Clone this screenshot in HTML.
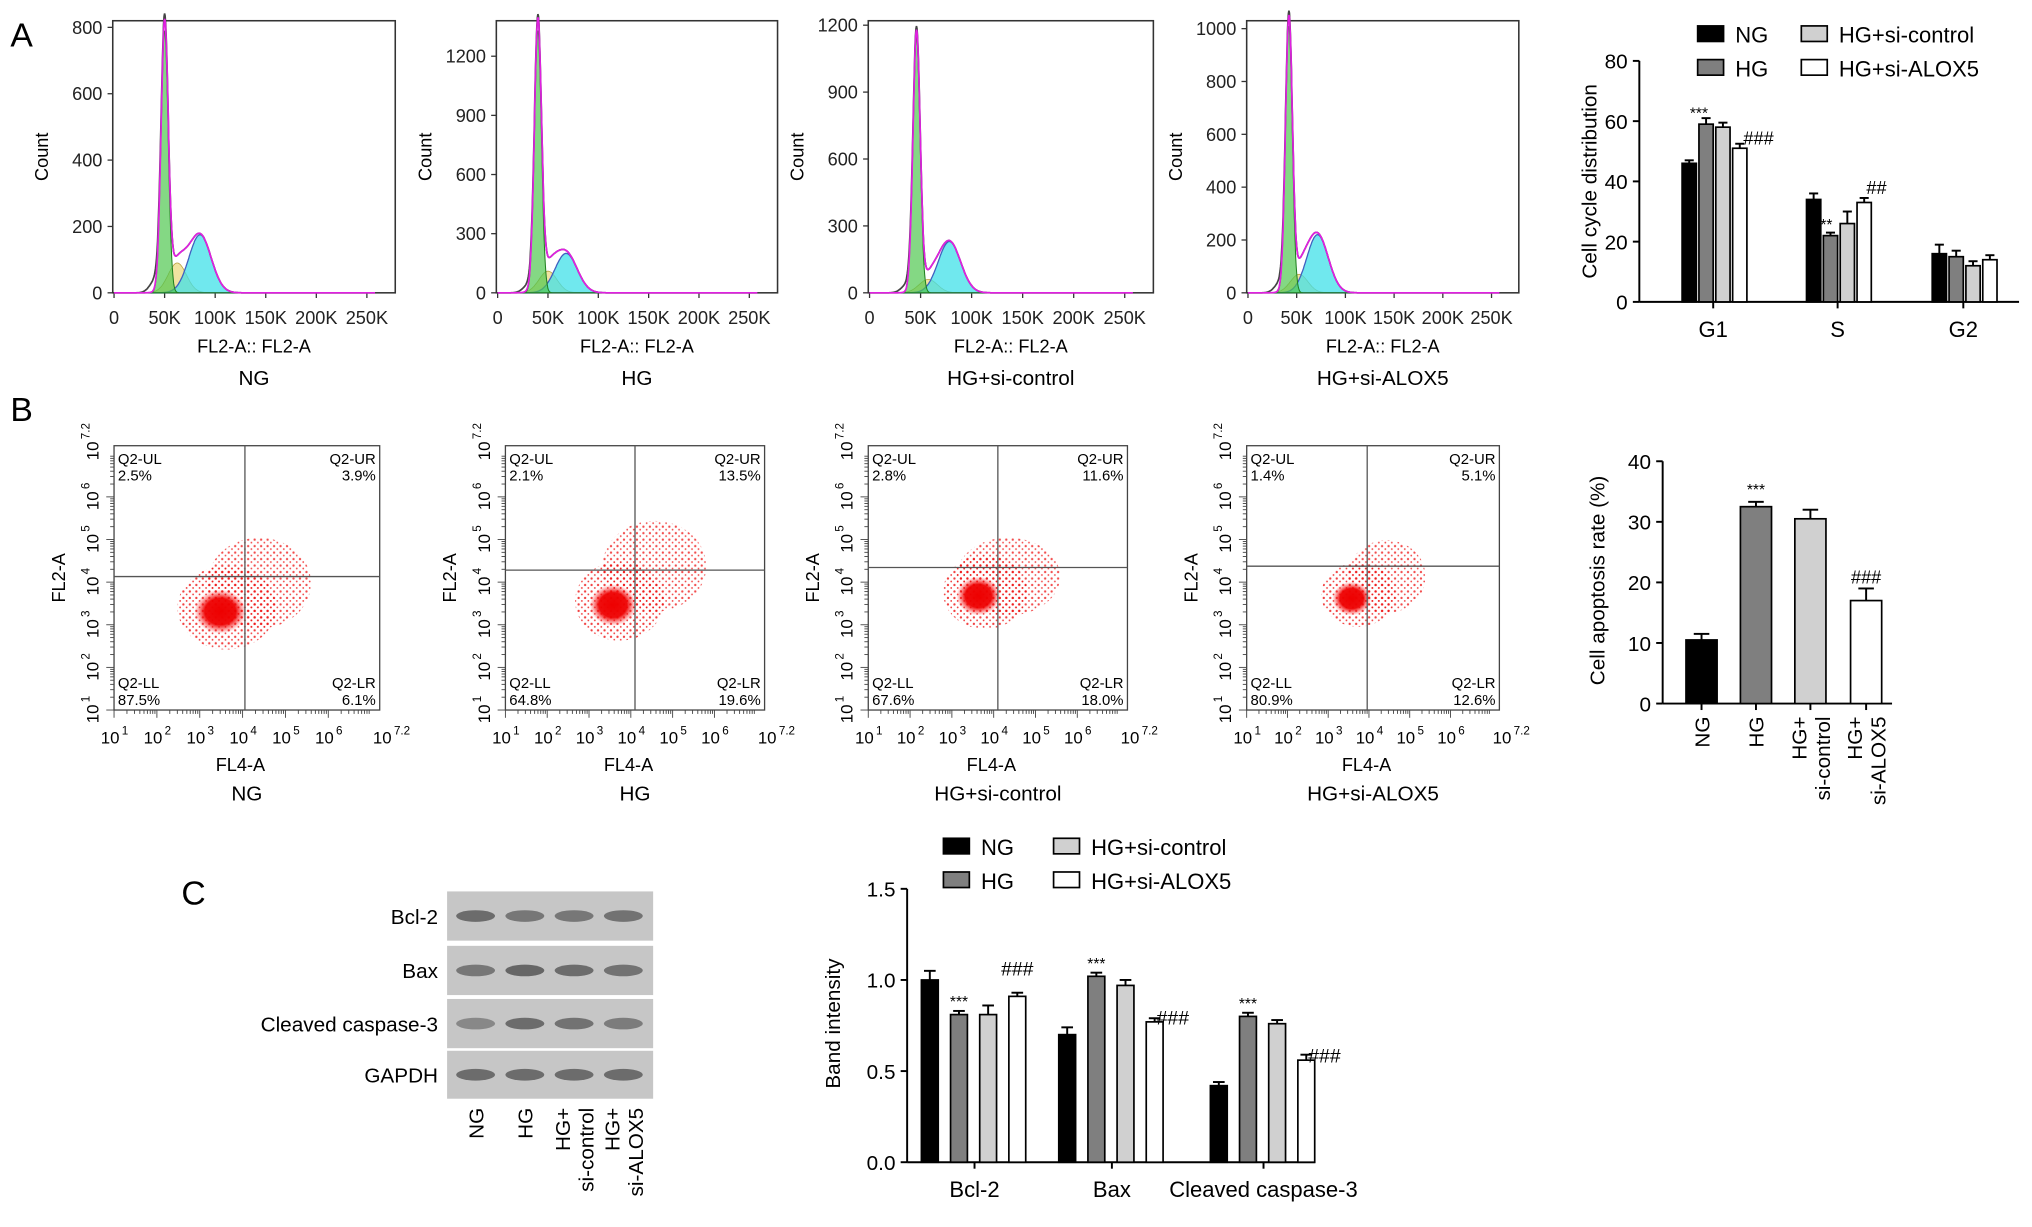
<!DOCTYPE html>
<html><head><meta charset="utf-8">
<style>
html,body{margin:0;padding:0;background:#fff;}
svg{display:block;font-family:"Liberation Sans",Arial,sans-serif;}
</style></head>
<body>
<svg id="fig" width="2032" height="1227" viewBox="0 0 1568 947" preserveAspectRatio="none" xmlns="http://www.w3.org/2000/svg">
<defs>
<pattern id="dots" width="5" height="5" patternUnits="userSpaceOnUse"><circle cx="1.5" cy="1.5" r="0.9" fill="#e11"/><circle cx="4" cy="3.8" r="0.7" fill="#e11"/></pattern>
<radialGradient id="core"><stop offset="0" stop-color="#e00"/><stop offset="0.6" stop-color="#e00" stop-opacity="0.95"/><stop offset="1" stop-color="#f33" stop-opacity="0"/></radialGradient>
</defs>
<text x="8" y="36" font-size="26">A</text>
<text x="8" y="325" font-size="26">B</text>
<text x="140" y="698" font-size="26">C</text>
<g id="root"></g>
</svg>
<script>
// ---------- data ----------
const histNames = ["NG","HG","HG+si-control","HG+si-ALOX5"];
const histYMax = [820, 1380, 1220, 1030];
const histYTicks = [[0,200,400,600,800],[0,300,600,900,1200],[0,300,600,900,1200],[0,200,400,600,800,1000]];
const histG1Pos = [50, 40, 46, 42];      // K
const histG1Height = [790, 1330, 1150, 1010];
const histG2Height = [175, 200, 230, 220];
const histSHeight = [90, 110, 60, 70];
const cycleCats = ["G1","S","G2"];
const cycleNG = [46, 34, 16];
const cycleHG = [59, 22, 15];
const cycleSiC = [58, 26, 12];
const cycleSiA = [51, 33, 14];
const cycleErr = [[1,2,3],[2,1,2],[1.5,4,1.5],[1.5,1.5,1.5]];
const cycleTicks = [0,20,40,60,80];
const quadUL = ["2.5%","2.1%","2.8%","1.4%"];
const quadUR = ["3.9%","13.5%","11.6%","5.1%"];
const quadLL = ["87.5%","64.8%","67.6%","80.9%"];
const quadLR = ["6.1%","19.6%","18.0%","12.6%"];
const apopCats = ["NG","HG","HG+si-control","HG+si-ALOX5"];
const apopVals = [10.5, 32.5, 30.5, 17];
const apopErr = [1, 0.8, 1.5, 2];
const apopTicks = [0,10,20,30,40];
const bandCats = ["Bcl-2","Bax","Cleaved caspase-3"];
const bandNG = [1.00, 0.70, 0.42];
const bandHG = [0.81, 1.02, 0.80];
const bandSiC = [0.81, 0.97, 0.76];
const bandSiA = [0.91, 0.77, 0.56];
const bandErr = [[0.05,0.04,0.02],[0.02,0.02,0.02],[0.05,0.03,0.02],[0.02,0.02,0.03]];
const bandTicks = [0,0.5,1.0,1.5];
const blotRows = ["Bcl-2","Bax","Cleaved caspase-3","GAPDH"];

// ---------- helpers ----------
const NS="http://www.w3.org/2000/svg";
const root=document.getElementById('root');
function mk(tag,attrs,parent,txt){const e=document.createElementNS(NS,tag);for(const k in attrs)e.setAttribute(k,attrs[k]);if(txt!==undefined)e.textContent=txt;(parent||root).appendChild(e);return e;}
const fills=["#000","#7f7f7f","#d0d0d0","#fff"];

// ---------- A: histograms ----------
const hBoxes=[[87,305],[383,600],[670,890],[962,1172]];
hBoxes.forEach((bx,i)=>{
  const g=mk('g',{});
  
  
  const x0=bx[0],x1=bx[1],yt=16,yb=226;
  const xs=v=>x0+1+(v/250)*(x1-x0)*0.895;
  const ys=v=>yb-v/histYMax[i]*(yb-yt);
  mk('rect',{x:x0,y:yt,width:x1-x0,height:yb-yt,fill:'#fff',stroke:'#333','stroke-width':1.2},g);
  histYTicks[i].forEach(t=>{mk('line',{x1:x0-4,x2:x0,y1:ys(t),y2:ys(t),stroke:'#333'},g);
    mk('text',{x:x0-8,y:ys(t)+5,'font-size':14,'text-anchor':'end',fill:'#222'},g,String(t));});
  [0,50,100,150,200,250].forEach(t=>{mk('line',{x1:xs(t),x2:xs(t),y1:yb,y2:yb+4,stroke:'#333'},g);
    mk('text',{x:xs(t),y:yb+24,'font-size':14,'text-anchor':'middle',fill:'#222'},g,t?t+'K':'0');});
  const ax=mk('text',{x:(x0+x1)/2,y:272,'font-size':14,'text-anchor':'middle'},g,'FL2-A:: FL2-A');
  
  mk('text',{x:(x0+x1)/2,y:297,'font-size':16,'text-anchor':'middle'},g,histNames[i]);
  const yl=mk('text',{transform:`translate(${x0-50},${(yt+yb)/2}) rotate(-90)`,'font-size':14,'text-anchor':'middle'},g,'Count');
  
  const p1=histG1Pos[i],p2=p1*1.7;
  const gauss=(v,m,s,h)=>h*Math.exp(-0.5*((v-m)/s)**2);
  const curve=(f)=>{let d='';for(let v=0;v<=258;v+=0.5){d+=(v?'L':'M')+xs(v).toFixed(1)+','+ys(f(v)).toFixed(1);}return d;};
  const area=(f)=>curve(f)+`L${xs(258)},${yb}L${xs(0)},${yb}Z`;
  const fG1=v=>gauss(v,p1,3.5,histG1Height[i]);
  const fS=v=>gauss(v,p1*1.25,9,histSHeight[i]);
  const fG2=v=>gauss(v,p2,11,histG2Height[i]);
  mk('path',{d:area(fS),fill:'#e8d060','fill-opacity':0.6,stroke:'#b9a040','stroke-width':0.6},g);
  mk('path',{d:area(fG2),fill:'#40e0e8','fill-opacity':0.75,stroke:'#4060c0','stroke-width':1},g);
  mk('path',{d:area(fG1),fill:'#50c850','fill-opacity':0.7,stroke:'#208020','stroke-width':0.8},g);
  mk('path',{d:curve(v=>fG1(v)+fS(v)+fG2(v)+gauss(v,p1-8,6,40)),fill:'none',stroke:'#444','stroke-width':1.3},g);
  mk('path',{d:curve(v=>fG1(v)+fS(v)+fG2(v)),fill:'none',stroke:'#e020e0','stroke-width':1.3},g);
});

// ---------- A: cell cycle bars ----------
(function(){
  const g=mk('g',{});
  const ax=1265,ay0=233,ay1=47,ymax=80;
  const ys=v=>ay0-v/ymax*(ay0-ay1);
  const centers=[1322,1418,1515];
  mk('line',{x1:ax,x2:ax,y1:ay1,y2:ay0,stroke:'#000','stroke-width':1.5},g);
  mk('line',{x1:ax,x2:1558,y1:ay0,y2:ay0,stroke:'#000','stroke-width':1.5},g);
  cycleTicks.forEach(t=>{mk('line',{x1:ax-5,x2:ax,y1:ys(t),y2:ys(t),stroke:'#000','stroke-width':1.5},g);
    mk('text',{x:ax-9,y:ys(t)+6,'font-size':16,'text-anchor':'end'},g,String(t));});
  mk('text',{transform:`translate(1232,140) rotate(-90)`,'font-size':16,'text-anchor':'middle'},g,'Cell cycle distribution');
  const series=[cycleNG,cycleHG,cycleSiC,cycleSiA];
  cycleCats.forEach((c,ci)=>{
    mk('line',{x1:centers[ci],x2:centers[ci],y1:ay0,y2:ay0+5,stroke:'#000','stroke-width':1.5},g);
    mk('text',{x:centers[ci],y:ay0+27,'font-size':17,'text-anchor':'middle'},g,c);
    series.forEach((s,si)=>{
      const bx=centers[ci]-24+si*13,v=s[ci],e=cycleErr[si][ci];
      mk('line',{x1:bx+5.5,x2:bx+5.5,y1:ys(v+e),y2:ys(v),stroke:'#000','stroke-width':1.5},g);
      mk('line',{x1:bx+2,x2:bx+9,y1:ys(v+e),y2:ys(v+e),stroke:'#000','stroke-width':1.5},g);
      const r=mk('rect',{x:bx,y:ys(v),width:11,height:ay0-ys(v),fill:fills[si],stroke:'#000','stroke-width':1.3},g);
      
    });
  });
  mk('text',{x:1311,y:ys(60)-2,'font-size':12,'text-anchor':'middle'},g,'***');
  mk('text',{x:1357,y:ys(54)+4,'font-size':14,'text-anchor':'middle'},g,'###');
  mk('text',{x:1407,y:ys(23)-2,'font-size':12,'text-anchor':'middle'},g,'***');
  mk('text',{x:1448,y:ys(35)-2,'font-size':14,'text-anchor':'middle'},g,'##');
  const leg=[["NG",1310,27],["HG",1310,53],["HG+si-control",1390,27],["HG+si-ALOX5",1390,53]];
  leg.forEach((l,i)=>{const le=mk('g',{},g);
    mk('rect',{x:l[1],y:l[2]-7,width:20,height:12,fill:fills[i],stroke:'#000','stroke-width':1.3},le);
    mk('text',{x:l[1]+29,y:l[2]+6,'font-size':17},le,l[0]);});
})();

// ---------- B: scatter ----------
const sBoxes=[[88,293,189,445],[390,590,490,440],[670,870,770,438],[962,1157,1055,437]];
const clusterMain=[[170,472,20,17],[473,467,18,16],[755,460,17,15],[1043,462,15,13]];
const clusterSide=[[200,450,40,35],[505,437,40,35],[778,445,40,30],[1070,445,30,28]];
sBoxes.forEach((b,i)=>{
  const g=mk('g',{});
  
  
  const [x0,x1,qx,qy]=b,yt=344,yb=548;
  mk('rect',{x:x0,y:yt,width:x1-x0,height:yb-yt,fill:'#fff',stroke:'#444','stroke-width':1},g);
  const cs=clusterSide[i],cm=clusterMain[i];
  mk('ellipse',{cx:cs[0],cy:cs[1],rx:cs[2],ry:cs[3],fill:'url(#dots)',opacity:0.75},g);
  mk('ellipse',{cx:cm[0]+5,cy:cm[1]-3,rx:cm[2]*1.9,ry:cm[3]*1.9,fill:'url(#dots)',opacity:0.8},g);
  mk('ellipse',{cx:cm[0],cy:cm[1],rx:cm[2],ry:cm[3],fill:'url(#core)'},g);
  mk('line',{x1:qx,x2:qx,y1:yt,y2:yb,stroke:'#555','stroke-width':1},g);
  mk('line',{x1:x0,x2:x1,y1:qy,y2:qy,stroke:'#555','stroke-width':1},g);
  mk('text',{x:x0+3,y:yt+14,'font-size':11.5},g,'Q2-UL');
  mk('text',{x:x0+3,y:yt+27,'font-size':11.5},g,quadUL[i]);
  mk('text',{x:x1-3,y:yt+14,'font-size':11.5,'text-anchor':'end'},g,'Q2-UR');
  mk('text',{x:x1-3,y:yt+27,'font-size':11.5,'text-anchor':'end'},g,quadUR[i]);
  mk('text',{x:x0+3,y:yb-17,'font-size':11.5},g,'Q2-LL');
  mk('text',{x:x0+3,y:yb-4,'font-size':11.5},g,quadLL[i]);
  mk('text',{x:x1-3,y:yb-17,'font-size':11.5,'text-anchor':'end'},g,'Q2-LR');
  mk('text',{x:x1-3,y:yb-4,'font-size':11.5,'text-anchor':'end'},g,quadLR[i]);
  const dec=[1,2,3,4,5,6];const w=(x1-x0)/6.2;
  dec.forEach((d,k)=>{const px=x0+k*w;
    mk('text',{x:px-3,y:yb+26,'font-size':13,'text-anchor':'middle'},g,'10');
    mk('text',{x:px+6,y:yb+19,'font-size':9},g,String(d));
    const py=yb-k*(yb-yt)/6.2;
    mk('text',{transform:`translate(${x0-12},${py+3}) rotate(-90)`,'font-size':13,'text-anchor':'middle'},g,'10');
    mk('text',{transform:`translate(${x0-19},${py-6}) rotate(-90)`,'font-size':9},g,String(d));
    for(let m=1;m<10;m++){const f=Math.log10(m)*w;
      mk('line',{x1:px+f,x2:px+f,y1:yb,y2:yb+(m==1?6:3),stroke:'#444','stroke-width':0.7},g);
      const fy=Math.log10(m)*(yb-yt)/6.2;
      mk('line',{x1:x0,x2:x0-(m==1?6:3),y1:py-fy,y2:py-fy,stroke:'#444','stroke-width':0.7},g);}
  });
  mk('text',{x:x1+2,y:yb+26,'font-size':13,'text-anchor':'middle'},g,'10');
  mk('text',{x:x1+11,y:yb+19,'font-size':9},g,'7.2');
  mk('text',{transform:`translate(${x0-12},${yt+4}) rotate(-90)`,'font-size':13,'text-anchor':'middle'},g,'10');
  mk('text',{transform:`translate(${x0-19},${yt-5}) rotate(-90)`,'font-size':9},g,'7.2');
  mk('text',{x:(x0+x1)/2-5,y:yb+47,'font-size':14,'text-anchor':'middle'},g,'FL4-A');
  mk('text',{transform:`translate(${x0-38},${(yt+yb)/2}) rotate(-90)`,'font-size':14,'text-anchor':'middle'},g,'FL2-A');
  mk('text',{x:(x0+x1)/2,y:618,'font-size':16,'text-anchor':'middle'},g,histNames[i]);
});

// ---------- B: apoptosis bars ----------
(function(){
  const g=mk('g',{});
  const ax=1283,ay0=543,ay1=356,ymax=40;
  const ys=v=>ay0-v/ymax*(ay0-ay1);
  const centers=[1313,1355,1397,1440];
  mk('line',{x1:ax,x2:ax,y1:ay1,y2:ay0,stroke:'#000','stroke-width':1.5},g);
  mk('line',{x1:ax,x2:1460,y1:ay0,y2:ay0,stroke:'#000','stroke-width':1.5},g);
  apopTicks.forEach(t=>{mk('line',{x1:ax-5,x2:ax,y1:ys(t),y2:ys(t),stroke:'#000','stroke-width':1.5},g);
    mk('text',{x:ax-9,y:ys(t)+6,'font-size':16,'text-anchor':'end'},g,String(t));});
  mk('text',{transform:`translate(1238,448) rotate(-90)`,'font-size':16,'text-anchor':'middle'},g,'Cell apoptosis rate (%)');
  apopVals.forEach((v,i)=>{const c=centers[i],e=apopErr[i];
    mk('line',{x1:c,x2:c,y1:ys(v+e),y2:ys(v),stroke:'#000','stroke-width':1.5},g);
    mk('line',{x1:c-6,x2:c+6,y1:ys(v+e),y2:ys(v+e),stroke:'#000','stroke-width':1.5},g);
    const r=mk('rect',{x:c-12,y:ys(v),width:24,height:ay0-ys(v),fill:fills[i],stroke:'#000','stroke-width':1.3},g);
    
    mk('line',{x1:c,x2:c,y1:ay0,y2:ay0+5,stroke:'#000','stroke-width':1.5},g);
    const lab=apopCats[i].startsWith('HG+')?['HG+',apopCats[i].slice(3)]:[apopCats[i]];
    lab.forEach((s,k)=>mk('text',{transform:`translate(${c+6-(lab.length-1)*9+k*18},${ay0+10}) rotate(-90)`,'font-size':16,'text-anchor':'end'},g,s));
  });
  mk('text',{x:centers[1],y:ys(34)-2,'font-size':12,'text-anchor':'middle'},g,'***');
  mk('text',{x:centers[3],y:ys(19)-4,'font-size':14,'text-anchor':'middle'},g,'###');
})();

// ---------- C: western blot ----------
(function(){
  const g=mk('g',{});
  const rowsY=[[688,726],[730,768],[771,809],[811,848]];
  const lanes=[367,405,443,481];
  const inten=[[0.8,0.7,0.7,0.75],[0.7,0.85,0.8,0.75],[0.55,0.8,0.75,0.65],[0.8,0.8,0.8,0.8]];
  blotRows.forEach((r,i)=>{const [y0,y1]=rowsY[i];
    mk('rect',{x:345,y:y0,width:159,height:y1-y0,fill:'#c6c6c6'},g);
    lanes.forEach((lx,k)=>mk('ellipse',{cx:lx,cy:(y0+y1)/2,rx:15,ry:4.5,fill:'#555','fill-opacity':inten[i][k]},g));
    mk('text',{x:338,y:(y0+y1)/2+6,'font-size':16,'text-anchor':'end'},g,r);});
  const labs=[["NG"],["HG"],["HG+","si-control"],["HG+","si-ALOX5"]];
  labs.forEach((l,k)=>l.forEach((s,j)=>mk('text',{transform:`translate(${lanes[k]+6-(l.length-1)*9+j*18},855) rotate(-90)`,'font-size':16,'text-anchor':'end'},g,s)));
})();

// ---------- C: band intensity ----------
(function(){
  const g=mk('g',{});
  const ax=700,ay0=897,ay1=686,ymax=1.5;
  const ys=v=>ay0-v/ymax*(ay0-ay1);
  const centers=[752,858,975];
  mk('line',{x1:ax,x2:ax,y1:ay1,y2:ay0,stroke:'#000','stroke-width':1.5},g);
  mk('line',{x1:ax,x2:1015,y1:ay0,y2:ay0,stroke:'#000','stroke-width':1.5},g);
  bandTicks.forEach(t=>{mk('line',{x1:ax-5,x2:ax,y1:ys(t),y2:ys(t),stroke:'#000','stroke-width':1.5},g);
    mk('text',{x:ax-9,y:ys(t)+6,'font-size':16,'text-anchor':'end'},g,t.toFixed(1));});
  mk('text',{transform:`translate(648,790) rotate(-90)`,'font-size':16,'text-anchor':'middle'},g,'Band intensity');
  const series=[bandNG,bandHG,bandSiC,bandSiA];
  bandCats.forEach((c,ci)=>{
    mk('line',{x1:centers[ci],x2:centers[ci],y1:ay0,y2:ay0+5,stroke:'#000','stroke-width':1.5},g);
    mk('text',{x:centers[ci],y:ay0+27,'font-size':17,'text-anchor':'middle'},g,c);
    series.forEach((s,si)=>{
      const bx=centers[ci]-41+si*22.5,v=s[ci],e=bandErr[si][ci];
      mk('line',{x1:bx+6.5,x2:bx+6.5,y1:ys(v+e),y2:ys(v),stroke:'#000','stroke-width':1.5},g);
      mk('line',{x1:bx+2,x2:bx+11,y1:ys(v+e),y2:ys(v+e),stroke:'#000','stroke-width':1.5},g);
      const r=mk('rect',{x:bx,y:ys(v),width:13,height:ay0-ys(v),fill:fills[si],stroke:'#000','stroke-width':1.3},g);
      
    });
    mk('text',{x:centers[ci]-41+22.5+6.5,y:ys(series[1][ci]+bandErr[1][ci])-3,'font-size':12,'text-anchor':'middle'},g,'***');
  });
  [0,1,2].forEach(ci=>{const v=bandSiA[ci];const off=ci==0?[0,-14]:[14,4];
    mk('text',{x:centers[ci]-41+67.5+6.5+off[0],y:ys(v)+off[1]-2,'font-size':15,'text-anchor':'middle'},g,'###');});
  const leg=[["NG",728,654],["HG",728,680],["HG+si-control",813,654],["HG+si-ALOX5",813,680]];
  leg.forEach((l,i)=>{const le=mk('g',{},g);
    mk('rect',{x:l[1],y:l[2]-7,width:20,height:12,fill:fills[i],stroke:'#000','stroke-width':1.3},le);
    mk('text',{x:l[1]+29,y:l[2]+6,'font-size':17},le,l[0]);});
})();
</script>
</body></html>
